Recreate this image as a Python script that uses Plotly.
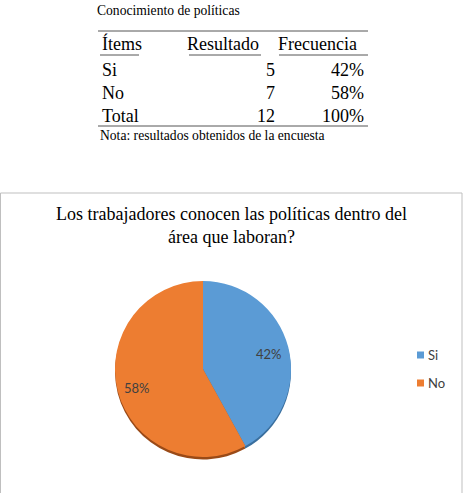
import math
import plotly.graph_objects as go

W, H = 464, 493

# ---- data ----
items = ["Si", "No"]
resultados = [5, 7]
frecuencias = ["42%", "58%"]
total_label = "Total"
total_resultado = 12
total_frecuencia = "100%"
pie_values = [42, 58]
colors = ["#5B9BD5", "#ED7D31"]
shadow_colors = ["#3A6F9E", "#9A4A17"]

table_title = "Conocimiento de políticas"
table_headers = ["Ítems", "Resultado", "Frecuencia"]
table_note = "Nota: resultados obtenidos de la encuesta"
chart_title = "Los trabajadores conocen las políticas dentro del<br>área que laboran?"


def fx(px):
    return px / W


def fy(py):
    return 1 - py / H


serif = "Liberation Serif, Times New Roman, serif"
sans = "Lato"

# pie geometry (pixels)
CX, CY, R = 203, 369, 88

fig = go.Figure()
# shadow pie (3D rim look)
fig.add_trace(go.Pie(
    labels=items, values=pie_values, textinfo="none",
    marker=dict(colors=shadow_colors, line=dict(width=0)),
    sort=False, direction="clockwise", rotation=0,
    domain=dict(x=[fx(CX - R), fx(CX + R)], y=[fy(CY + R + 2.5), fy(CY - R + 2.5)]),
    showlegend=False, hoverinfo="skip",
))
fig.add_trace(go.Pie(
    labels=items,
    values=pie_values,
    textinfo="none",
    marker=dict(colors=colors, line=dict(width=0)),
    sort=False,
    direction="clockwise",
    rotation=0,
    domain=dict(x=[fx(CX - R), fx(CX + R)], y=[fy(CY + R), fy(CY - R)]),
    showlegend=False,
    hoverinfo="label+percent",
))

annotations = []
shapes = []


def txt(x, y, s, size=18, anchor="left", family=serif, color="#000000"):
    annotations.append(dict(
        x=fx(x), y=fy(y), xref="paper", yref="paper", text=s, showarrow=False,
        xanchor=anchor, yanchor="middle", font=dict(family=family, size=size, color=color),
    ))


# pie labels at 0.78 R along each slice's mid angle
total = sum(pie_values)
cum = 0
for v, lab in zip(pie_values, frecuencias):
    mid = (cum + v / 2) / total * 2 * math.pi
    cum += v
    lx = CX + 0.78 * R * math.sin(mid)
    ly = CY - 0.78 * R * math.cos(mid)
    txt(lx, ly + 2, lab, size=13, anchor="center", family=sans, color="#404040")

# manual legend
for i, (lab, c) in enumerate(zip(items, colors)):
    yy = 355 + 28 * i
    shapes.append(dict(type="rect", xref="paper", yref="paper",
                       x0=fx(417), x1=fx(424), y0=fy(yy + 3.5), y1=fy(yy - 3.5),
                       fillcolor=c, line=dict(width=0)))
    txt(426, yy, lab, size=13, family=sans, color="#404040")

# table title
txt(95, 10, table_title, size=13.6)
# rules
for yy in (31, 126):
    shapes.append(dict(type="line", xref="paper", yref="paper",
                       x0=fx(98), x1=fx(368), y0=fy(yy), y1=fy(yy),
                       line=dict(color="#555555", width=1)))
# headers
txt(100, 44, table_headers[0])
txt(261, 44, table_headers[1], anchor="right")
txt(359, 44, table_headers[2], anchor="right")
for x0, x1 in ((100, 139), (189, 261), (279, 360), (360, 368)):
    shapes.append(dict(type="line", xref="paper", yref="paper",
                       x0=fx(x0), x1=fx(x1), y0=fy(55), y1=fy(55),
                       line=dict(color="#555555", width=1)))
# rows
rows_y = [70, 93, 116]
all_items = items + [total_label]
all_res = resultados + [total_resultado]
all_freq = frecuencias + [total_frecuencia]
for yy, it, r, f in zip(rows_y, all_items, all_res, all_freq):
    txt(100, yy, it)
    txt(277, yy, str(r), anchor="right")
    txt(366, yy, f, anchor="right")
# note
txt(98, 135, table_note, size=13.6)

# chart title
txt(231, 225, chart_title, size=18, anchor="center")

# chart border (left, top, right)
for (x0, y0, x1, y1) in ((0.5, 193, 462, 193), (0.5, 193, 0.5, 493), (462, 193, 462, 493)):
    shapes.append(dict(type="line", xref="paper", yref="paper",
                       x0=fx(x0), x1=fx(x1), y0=fy(y0), y1=fy(y1),
                       line=dict(color="#BFBFBF", width=1)))

fig.update_layout(
    width=W, height=H,
    margin=dict(l=0, r=0, t=0, b=0),
    paper_bgcolor="white", plot_bgcolor="white",
    annotations=annotations, shapes=shapes,
    showlegend=False,
)

fig.write_html("out.html")
